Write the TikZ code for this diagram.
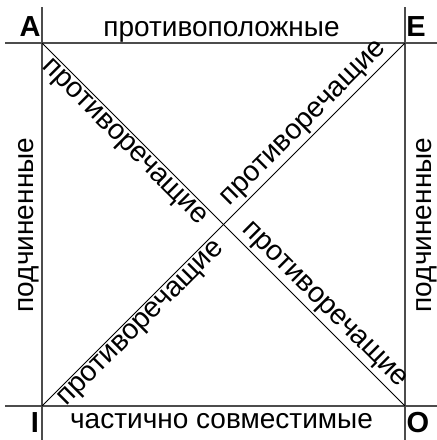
\documentclass[tikz,border=0pt]{standalone}
\usepackage{fontspec}
\setmainfont{Liberation Sans}
\begin{document}
\begin{tikzpicture}[x=1pt,y=-1pt,
  frame/.style={line width=1.1pt,draw=black!70},
  diag/.style={line width=0.9pt,draw=black},
  lbl/.style={font=\fontsize{28}{32}\selectfont,inner sep=0pt},
  corner/.style={font=\fontsize{29}{32}\selectfont\bfseries,inner sep=0pt,anchor=base},
  dlbl/.style={font=\fontsize{28.5}{32}\selectfont,inner sep=2.5pt,midway,sloped}]
\useasboundingbox (0,0) rectangle (437,440);
\coordinate (A) at (42,43);
\coordinate (E) at (405,43);
\coordinate (I) at (42,406);
\coordinate (O) at (405,406);
\coordinate (C) at (223.5,224.5);
\coordinate (Lt) at (42,7);
\coordinate (Lb) at (42,440);
\coordinate (Rt) at (405,7);
\coordinate (Rb) at (405,440);
\coordinate (Tl) at (5,43);
\coordinate (Tr) at (437,43);
\coordinate (Bl) at (5,406);
\coordinate (Br) at (437,406);
\draw[frame] (Lt) -- (Lb);
\draw[frame] (Rt) -- (Rb);
\draw[frame] (Tl) -- (Tr);
\draw[frame] (Bl) -- (Br);
\draw[diag] (A) -- (O);
\draw[diag] (I) -- (E);
\path (A) -- (C) node[dlbl,below] (d1) {противоречащие};
\path (C) -- (E) node[dlbl,above] (d2) {противоречащие};
\path (I) -- (C) node[dlbl,below] (d3) {противоречащие};
\path (C) -- (O) node[dlbl,above] (d4) {противоречащие};
\node[corner] (la) at (30,36) {A};
\node[corner] (le) at (416,36) {E};
\node[corner] (li) at (35,432) {I};
\node[corner] (lo) at (418,432) {O};
\node[lbl,anchor=base] (top) at (221.5,36) {противоположные};
\node[lbl,anchor=base] (bot) at (221.5,428) {частично совместимые};
\node[lbl,anchor=base,rotate=90] (left) at (33,225) {подчиненные};
\node[lbl,anchor=base,rotate=90] (right) at (431,225) {подчиненные};
\end{tikzpicture}
\end{document}
